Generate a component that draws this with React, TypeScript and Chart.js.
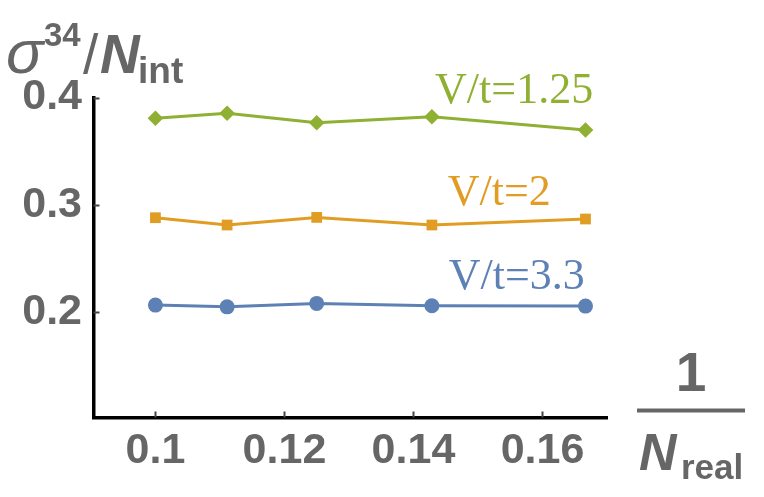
import React, { useEffect, useRef } from "react";
import { Chart, registerables } from "chart.js";

Chart.register(...registerables);

// ---- data ----
const X_VALUES = [1 / 10, 1 / 9, 1 / 8, 1 / 7, 1 / 6];
const SERIES_NAMES = ["V/t=3.3", "V/t=2", "V/t=1.25"];
const VT_3_3 = [0.2067, 0.2051, 0.2083, 0.2061, 0.2058];
const VT_2 = [0.2881, 0.2813, 0.2884, 0.2813, 0.2869];
const VT_1_25 = [0.3807, 0.3854, 0.3766, 0.3822, 0.3698];
const X_TICKS = [0.1, 0.12, 0.14, 0.16];
const Y_TICKS = [0.2, 0.3, 0.4];

const COLORS = ["#5E81B5", "#E19C24", "#8FB032"];
const SHAPES = ["circle", "rect", "rectRot"];
const RADII = [7.5, 7.6, 7.8];
// where each series label is written (data coordinates: centre x, baseline y)
const LABEL_POS = [
  { x: 0.156, y: 0.2216 },
  { x: 0.1533, y: 0.2999 },
  { x: 0.1556, y: 0.395 },
];

const SANS = "'Liberation Sans', Arial, sans-serif";
const SERIF = "'Liberation Serif', 'Times New Roman', serif";
const GRAY = "#666666";

const decorPlugin = {
  id: "decor",
  afterDatasetsDraw(chart: any) {
    const { ctx, chartArea, scales } = chart;
    const x = scales.x;
    const y = scales.y;
    ctx.save();
    // inner ticks
    ctx.strokeStyle = "#444444";
    ctx.lineWidth = 2;
    X_TICKS.forEach((v) => {
      const px = Math.round(x.getPixelForValue(v)) + 0.5;
      ctx.beginPath();
      ctx.moveTo(px, chartArea.bottom);
      ctx.lineTo(px, chartArea.bottom - 6);
      ctx.stroke();
    });
    Y_TICKS.forEach((v) => {
      const py = Math.round(y.getPixelForValue(v)) + 0.5;
      ctx.beginPath();
      ctx.moveTo(chartArea.left, py);
      ctx.lineTo(chartArea.left + 6, py);
      ctx.stroke();
    });

    // series labels
    ctx.font = `44px ${SERIF}`;
    ctx.textAlign = "center";
    ctx.textBaseline = "alphabetic";
    SERIES_NAMES.forEach((name, i) => {
      ctx.fillStyle = COLORS[i];
      ctx.fillText(name, x.getPixelForValue(LABEL_POS[i].x), y.getPixelForValue(LABEL_POS[i].y));
    });

    // y axis title: sigma^34 / N_int
    ctx.fillStyle = GRAY;
    ctx.textAlign = "left";
    ctx.font = `italic 62px ${SANS}`;
    ctx.fillText("σ", 6, 73);
    ctx.font = `bold 33px ${SANS}`;
    ctx.fillText("34", 44, 46);
    ctx.font = `55px ${SANS}`;
    ctx.fillText("/", 83, 73);
    ctx.font = `italic bold 55px ${SANS}`;
    ctx.fillText("N", 100, 73);
    ctx.font = `bold 37px ${SANS}`;
    ctx.fillText("int", 138, 83);

    // x axis title: 1 / N_real
    ctx.textAlign = "center";
    ctx.font = `bold 55px ${SANS}`;
    ctx.fillText("1", 691, 391);
    ctx.fillRect(637, 408.5, 108, 4);
    ctx.textAlign = "left";
    ctx.font = `italic bold 52px ${SANS}`;
    ctx.fillText("N", 639, 470);
    ctx.font = `bold 35px ${SANS}`;
    ctx.fillText("real", 681, 479);
    ctx.restore();
  },
};

export default function App() {
  const canvasRef = useRef<HTMLCanvasElement | null>(null);

  useEffect(() => {
    if (!canvasRef.current) return;
    const seriesValues = [VT_3_3, VT_2, VT_1_25];
    const chart = new Chart(canvasRef.current, {
      type: "line",
      data: {
        datasets: seriesValues.map((vals, i) => ({
          label: SERIES_NAMES[i],
          data: vals.map((v, j) => ({ x: X_VALUES[j], y: v })),
          borderColor: COLORS[i],
          backgroundColor: COLORS[i],
          borderWidth: 3,
          pointStyle: SHAPES[i] as any,
          pointRadius: RADII[i],
          pointBorderWidth: 0,
          pointBackgroundColor: COLORS[i],
          tension: 0,
          clip: false as any,
        })),
      },
      plugins: [decorPlugin],
      options: {
        animation: false,
        responsive: false,
        layout: { padding: { left: 0, top: 97.6, right: 157, bottom: 0 } },
        plugins: { legend: { display: false }, tooltip: { enabled: false } },
        scales: {
          x: {
            type: "linear",
            min: 0.0904,
            max: 0.17,
            afterFit: (s: any) => {
              s.height = 79.5;
            },
            afterBuildTicks: (s: any) => {
              s.ticks = X_TICKS.map((v) => ({ value: v }));
            },
            grid: { display: true, drawOnChartArea: false, drawTicks: false },
            border: { display: true, color: "#000000", width: 3.5 },
            ticks: {
              padding: 8,
              color: GRAY,
              font: { family: SANS, size: 43, weight: "bold" },
              callback: (v: any) => String(v),
            },
          },
          y: {
            type: "linear",
            min: 0.102,
            max: 0.4,
            afterFit: (s: any) => {
              s.width = 93.5;
            },
            afterBuildTicks: (s: any) => {
              s.ticks = Y_TICKS.map((v) => ({ value: v }));
            },
            grid: { display: true, drawOnChartArea: false, drawTicks: false },
            border: { display: true, color: "#000000", width: 3.5 },
            ticks: {
              padding: 11.5,
              color: GRAY,
              font: { family: SANS, size: 43, weight: "bold" },
              callback: (v: any) => String(v),
            },
          },
        },
      },
    });
    return () => chart.destroy();
  }, []);

  return (
    <div style={{ position: "fixed", left: 0, top: 0, width: 764, height: 497, background: "#ffffff" }}>
      <canvas ref={canvasRef} width={764} height={497} style={{ display: "block" }} />
    </div>
  );
}
